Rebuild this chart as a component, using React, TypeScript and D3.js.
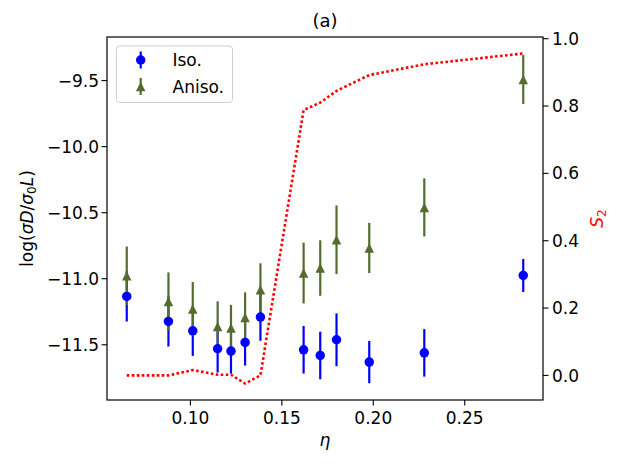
import React from "react";
import * as d3 from "d3";

const eta = [0.0652, 0.088, 0.1013, 0.1149, 0.1222, 0.1299, 0.1383, 0.1619, 0.171, 0.1799, 0.1978, 0.2279, 0.282];
const isoMean = [-11.134, -11.323, -11.394, -11.53, -11.548, -11.482, -11.29, -11.538, -11.581, -11.462, -11.631, -11.561, -10.975];
const isoErr = [0.19, 0.19, 0.19, 0.18, 0.17, 0.175, 0.18, 0.18, 0.18, 0.2, 0.16, 0.18, 0.125];
const anisoMean = [-10.978, -11.172, -11.23, -11.361, -11.373, -11.293, -11.083, -10.957, -10.919, -10.705, -10.767, -10.46, -9.492];
const anisoErr = [0.222, 0.22, 0.205, 0.19, 0.175, 0.19, 0.2, 0.23, 0.21, 0.26, 0.19, 0.22, 0.185];
const s2 = [0.0, 0.0, 0.016, 0.002, 0.002, -0.024, 0.0, 0.788, 0.81, 0.845, 0.892, 0.924, 0.956];

const xTicks = [0.1, 0.15, 0.2, 0.25];
const yLeftTicks = [-11.5, -11.0, -10.5, -10.0, -9.5];
const yRightTicks = [0.0, 0.2, 0.4, 0.6, 0.8, 1.0];

const W = 623;
const H = 467;
const L = 107;
const R = 543;
const T = 37;
const B = 400;

const BLUE = "#0000ff";
const GREEN = "#556b2f";
const RED = "#ff0000";
const FONT = "DejaVu Sans, sans-serif";
const FS = 17;

const fmtMinus = (v: number, f: string) => d3.format(f)(v).replace("-", "\u2212");

export default function App() {
  const x = d3.scaleLinear().domain([0.0544, 0.2928]).range([L, R]);
  const yL = d3.scaleLinear().domain([-11.918, -9.17]).range([B, T]);
  const yR = d3.scaleLinear().domain([-0.073, 1.005]).range([B, T]);

  const s2Line = d3
    .line<number>()
    .x((_, i) => x(eta[i]))
    .y((d) => yR(d));

  const tri = (cx: number, cy: number, s: number) => {
    const h = s / 2;
    return `M${cx},${cy - h}L${cx - h},${cy + h}L${cx + h},${cy + h}Z`;
  };

  const ms = 9.5;

  return (
    <svg
      width={W}
      height={H}
      style={{ position: "absolute", left: 0, top: 0, background: "#fff" }}
      fontFamily={FONT}
    >
      <rect x={0} y={0} width={W} height={H} fill="#fff" />
      <defs>
        <clipPath id="plotclip">
          <rect x={L} y={T} width={R - L} height={B - T} />
        </clipPath>
      </defs>

      <g clipPath="url(#plotclip)">
        {eta.map((e, i) => (
          <line
            key={"ib" + i}
            x1={x(e)}
            x2={x(e)}
            y1={yL(isoMean[i] - isoErr[i])}
            y2={yL(isoMean[i] + isoErr[i])}
            stroke={BLUE}
            strokeWidth={2.2}
          />
        ))}
        {eta.map((e, i) => (
          <line
            key={"ab" + i}
            x1={x(e)}
            x2={x(e)}
            y1={yL(anisoMean[i] - anisoErr[i])}
            y2={yL(anisoMean[i] + anisoErr[i])}
            stroke={GREEN}
            strokeWidth={2.2}
          />
        ))}
        {eta.map((e, i) => (
          <circle key={"im" + i} cx={x(e)} cy={yL(isoMean[i])} r={ms / 2} fill={BLUE} />
        ))}
        {eta.map((e, i) => (
          <path key={"am" + i} d={tri(x(e), yL(anisoMean[i]), ms)} fill={GREEN} />
        ))}
        <path
          d={s2Line(s2) || ""}
          fill="none"
          stroke={RED}
          strokeWidth={2.6}
          strokeDasharray="2.6,2.4"
        />
      </g>

      <rect x={L} y={T} width={R - L} height={B - T} fill="none" stroke="#000" strokeWidth={1.2} />

      {xTicks.map((t) => (
        <g key={"xt" + t}>
          <line x1={x(t)} x2={x(t)} y1={B} y2={B + 5.5} stroke="#000" strokeWidth={1.1} />
          <text x={x(t)} y={B + 24} textAnchor="middle" fontSize={FS} fill="#000">
            {d3.format(".2f")(t)}
          </text>
        </g>
      ))}

      {yLeftTicks.map((t) => (
        <g key={"yl" + t}>
          <line x1={L - 5.5} x2={L} y1={yL(t)} y2={yL(t)} stroke="#000" strokeWidth={1.1} />
          <text x={L - 8} y={yL(t)} dy="0.36em" textAnchor="end" fontSize={FS} fill="#000">
            {fmtMinus(t, ".1f")}
          </text>
        </g>
      ))}

      {yRightTicks.map((t) => (
        <g key={"yr" + t}>
          <line x1={R} x2={R + 5.5} y1={yR(t)} y2={yR(t)} stroke="#000" strokeWidth={1.1} />
          <text x={R + 9} y={yR(t)} dy="0.36em" textAnchor="start" fontSize={FS} fill="#000">
            {d3.format(".1f")(t)}
          </text>
        </g>
      ))}

      <text x={(L + R) / 2} y={27} textAnchor="middle" fontSize={18} fill="#000">
        (a)
      </text>

      <text x={(L + R) / 2} y={446} textAnchor="middle" fontSize={FS} fontStyle="italic" fill="#000">
        η
      </text>

      <text
        transform={`translate(33,${(T + B) / 2}) rotate(-90)`}
        textAnchor="middle"
        fontSize={FS}
        fill="#000"
      >
        <tspan>log(</tspan>
        <tspan fontStyle="italic">σD</tspan>
        <tspan>/</tspan>
        <tspan fontStyle="italic">σ</tspan>
        <tspan fontSize={12} dy={3}>0</tspan>
        <tspan fontStyle="italic" dy={-3}>L</tspan>
        <tspan>)</tspan>
      </text>

      <text
        transform={`translate(603,${(T + B) / 2}) rotate(-90)`}
        textAnchor="middle"
        fontSize={FS}
        fill={RED}
      >
        <tspan fontStyle="italic">S</tspan>
        <tspan fontSize={12} dy={3}>2</tspan>
      </text>

      <g>
        <rect
          x={116.5}
          y={46}
          width={116}
          height={56.5}
          rx={3}
          ry={3}
          fill="#fff"
          fillOpacity={0.8}
          stroke="#d0d0d0"
          strokeWidth={1}
        />
        <line x1={140.7} x2={140.7} y1={51.5} y2={68.5} stroke={BLUE} strokeWidth={2.2} />
        <circle cx={140.7} cy={60} r={ms / 2} fill={BLUE} />
        <text x={172.5} y={66} fontSize={FS} fill="#000">
          Iso.
        </text>
        <line x1={140.7} x2={140.7} y1={78} y2={95} stroke={GREEN} strokeWidth={2.2} />
        <path d={tri(140.7, 86.5, ms)} fill={GREEN} />
        <text x={172.5} y={92.5} fontSize={FS} fill="#000">
          Aniso.
        </text>
      </g>
    </svg>
  );
}
